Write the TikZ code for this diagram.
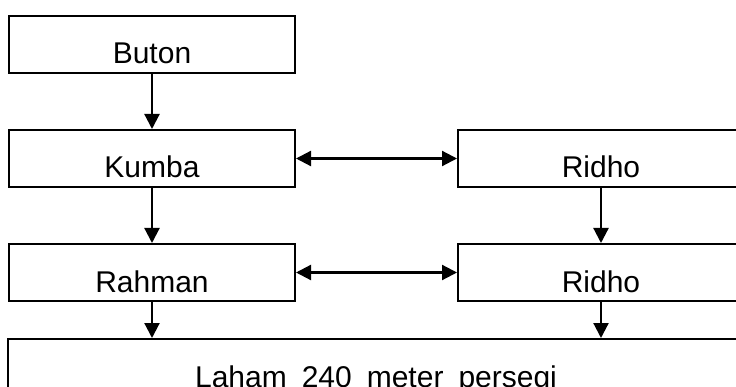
\documentclass[tikz,border=0pt]{standalone}
\usepackage{fontspec}
\setmainfont{Liberation Sans}
\usetikzlibrary{positioning, arrows.meta}
\tikzstyle{box} = [rectangle, draw=black, line width=2pt, minimum width=286pt, inner sep=0pt, text height=48pt, text depth=9pt, font=\fontsize{30}{36}\selectfont]
\tikzstyle{arrow} = [line width=2.2pt, -{Triangle[length=15pt,width=15pt]}]
\tikzstyle{twoway} = [line width=2.2pt, {Triangle[length=15pt,width=15pt]}-{Triangle[length=15pt,width=15pt]}]

\begin{document}
\begin{tikzpicture}
    \useasboundingbox (0,0) rectangle (736pt,-387pt);
    \clip (0,0) rectangle (736pt,-387pt);

    \node (buton) [box] at (152pt,-44.5pt) {Buton};
    \node (kumba) [box, below=55pt of buton] {Kumba};
    \node (ridhoatas) [box, right=161pt of kumba] {Ridho};
    \node (rahman) [box, below=55pt of kumba] {Rahman};
    \node (ridhobawah) [box, right=161pt of rahman] {Ridho};
    \node (laham) [box, minimum width=736pt, below=36pt of rahman.south west, anchor=north west, xshift=-1pt] {\spaceskip=15pt Laham 240 meter persegi};

    \draw [arrow] (buton) -- (kumba);
    \draw [arrow] (kumba) -- (rahman);
    \draw [arrow] (ridhoatas) -- (ridhobawah);
    \draw [twoway] (kumba) -- (ridhoatas);
    \draw [twoway] (rahman) -- (ridhobawah);
    \draw [arrow] (rahman) -- (rahman |- laham.north);
    \draw [arrow] (ridhobawah) -- (ridhobawah |- laham.north);
\end{tikzpicture}
\end{document}
